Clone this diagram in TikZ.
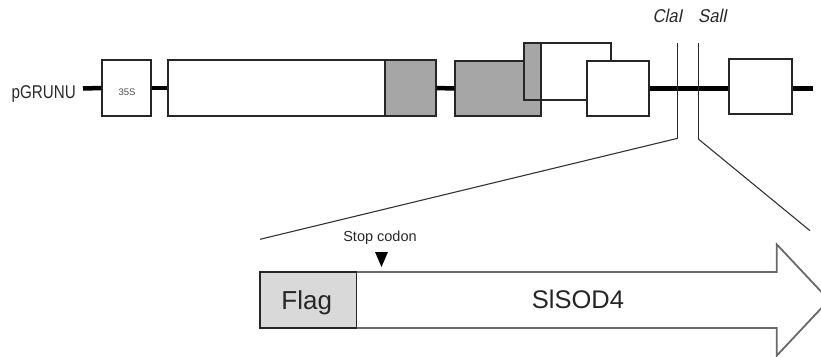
\documentclass[tikz,border=0pt]{standalone}
\usepackage{fontspec}
\usetikzlibrary{fit}
\setmainfont{Liberation Sans}
\newfontfamily\narrowfont[FakeStretch=0.82]{Liberation Sans}
\newfontfamily\narrowit[FakeStretch=0.9,FakeSlant=0.2]{Liberation Sans}
\definecolor{boxgray}{RGB}{166,166,166}
\definecolor{flaggray}{RGB}{217,217,217}
\definecolor{arrowline}{RGB}{105,105,105}
\definecolor{lbl}{RGB}{40,40,40}
\begin{document}
\begin{tikzpicture}[x=1pt,y=-1pt,
  box/.style={draw=black!85, line width=1.2pt, fill=white, inner sep=0pt},
  graybox/.style={box, fill=boxgray},
  backbone/.style={line width=4.5pt, black},
  site/.style={line width=1.1pt, black!85},
  zoomline/.style={line width=1.1pt, black!80},
  lab/.style={inner sep=0pt, text=lbl}]
\useasboundingbox (0,0) rectangle (821,356);
\clip (0,0) rectangle (821,356);

% label
\node[lab, font=\narrowfont\fontsize{18.5}{20}\selectfont, anchor=base east] (pg) at (76,98.3) {pGRUNU};
\coordinate (bbstart) at (83,88.5);
\coordinate (bbend) at (813,88.5);

% upper box behind
\node[box, fit={(524,43)(611,100)}] (up) {};
% boxes
\node[box, fit={(102,60)(151,116)}] (s35) {};
\node[box, fit={(168,60)(385,116)}] (b1) {};
\node[graybox, fit={(385,60)(436,116)}] (g1) {};
\node[graybox, fit={(455,61)(541,116)}] (g2) {};
\node[graybox, fit={(524,43)(541,100)}] (gs) {};
\node[box, fit={(587,61)(649,116)}] (b4) {};
\node[box, fit={(729,59)(792,114)}] (b5) {};
\node[lab, font=\fontsize{9.5}{10}\selectfont, text=black!70] (t35) at (127,92) {35S};

% backbone
\draw[backbone] (bbstart) -- (s35.west);
\draw[backbone] (s35.east) -- (b1.west);
\draw[backbone] (g1.east) -- (g2.west);
\draw[backbone] (b4.east) -- (b4.east -| b5.west);
\draw[backbone] (b5.east |- bbend) -- (bbend);

% restriction sites
\coordinate (clatop) at (677.7,43);
\coordinate (clabot) at (677.7,138.3);
\coordinate (saltop) at (698.3,43);
\coordinate (salbot) at (698.3,139);
\coordinate (zl) at (260,239.3);
\coordinate (zr) at (810,230.7);
\draw[site] (clatop) -- (clabot);
\draw[site] (saltop) -- (salbot);
\draw[zoomline] (clabot) -- (zl);
\draw[zoomline] (salbot) -- (zr);
\node[lab, font=\narrowit\fontsize{18.5}{19}\selectfont, anchor=base] (cla) at (667.5,22.7) {ClaI};
\node[lab, font=\narrowit\fontsize{18.5}{19}\selectfont, anchor=base] (sal) at (712.5,22.7) {SalI};

% arrow
\draw[line width=1.8pt, draw=arrowline, fill=white, line join=miter]
  (300,272) -- (776.7,272) -- (776.7,244.3) -- (829,300) -- (776.7,355.7)
  -- (776.7,328) -- (300,328) -- cycle;
\node[box, fill=flaggray, fit={(260,272)(356.7,328)}] (flag) {};
\node[lab, font=\fontsize{26}{27}\selectfont, text=black!85, anchor=base] (flagtxt) at (306.7,309.3) {Flag};
\node[lab, font=\fontsize{25.5}{26}\selectfont, text=black!85, anchor=base] (sod) at (578,308.5) {SlSOD4};

% stop codon
\node[lab, font=\fontsize{14.5}{15}\selectfont, anchor=base] (stop) at (380,241) {Stop codon};
\fill[black] (375,252) -- (388,252) -- (381.5,267) -- cycle;
\end{tikzpicture}
\end{document}
